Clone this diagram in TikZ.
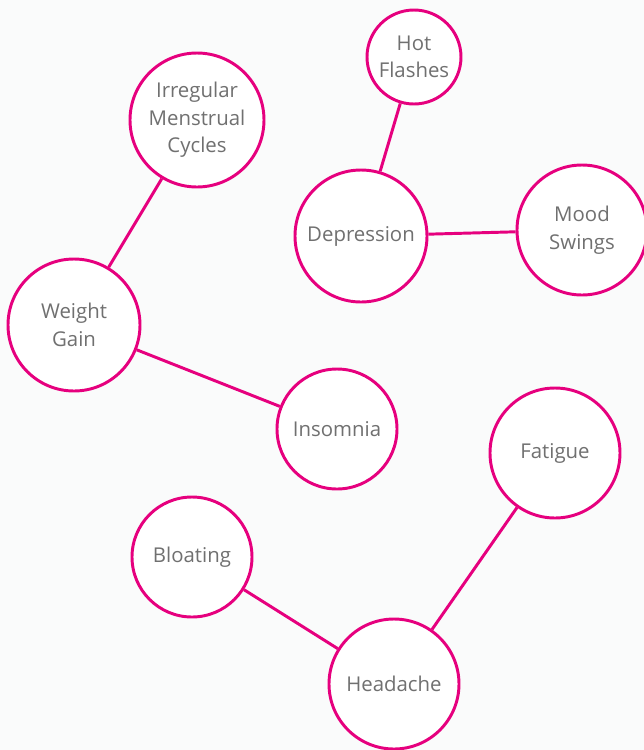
\documentclass[tikz,border=0pt]{standalone}
\usepackage{fontspec}
\setmainfont{Open Sans}
\definecolor{magenta}{HTML}{E6007E}
\definecolor{texto}{HTML}{707070}
\definecolor{fondo}{HTML}{FAFBFB}

\begin{document}
\begin{tikzpicture}[
      symptom/.style={circle, draw=magenta, line width=2.1pt, fill=white, text=texto, align=center, inner sep=0pt, font=\fontsize{14.5}{19.5}\selectfont},
      link/.style={line width=2.1pt, color=magenta}
    ]
      \clip (0,0) rectangle (16.1,-18.75);
      \fill[fondo] (0,0) rectangle (16.1,-18.75);
      \node[symptom, minimum size=2.35cm] (hot) at (10.35,-1.425) {Hot\\Flashes};
      \node[symptom, minimum size=3.35cm] (irr) at (4.925,-3.0) {Irregular\\Menstrual\\Cycles};
      \node[symptom, minimum size=3.3cm] (dep) at (9.025,-5.9) {Depression};
      \node[symptom, minimum size=3.25cm] (mood) at (14.55,-5.75) {Mood\\Swings};
      \node[symptom, minimum size=3.3cm] (wg) at (1.85,-8.125) {Weight\\Gain};
      \node[symptom, minimum size=3.0cm] (ins) at (8.425,-10.725) {Insomnia};
      \node[symptom, minimum size=3.25cm] (fat) at (13.875,-11.325) {Fatigue};
      \node[symptom, minimum size=3.0cm] (bloat) at (4.8,-13.925) {Bloating};
      \node[symptom, minimum size=3.25cm] (head) at (9.85,-17.1) {Headache};
      \draw[link] (hot) -- (dep);
      \draw[link] (dep) -- (mood);
      \draw[link] (irr) -- (wg);
      \draw[link] (wg) -- (ins);
      \draw[link] (fat) -- (head);
      \draw[link] (bloat) -- (head);
    \end{tikzpicture}
\end{document}
